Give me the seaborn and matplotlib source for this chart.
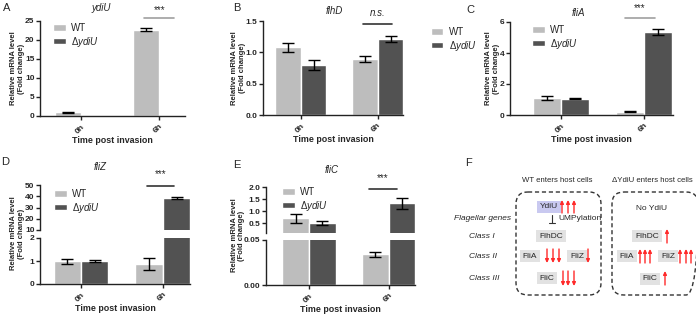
import numpy as np
import pandas as pd
import matplotlib.pyplot as plt
import seaborn as sns
from matplotlib.patches import Patch, FancyBboxPatch

# =====================
# DATA
# =====================
times = ["0h", "6h"]
strains = ["WT", "KO"]
legend_labels = ["WT", "Δ$\\mathit{ydiU}$"]

ydiU_wt = [1.0, 22.7]
ydiU_wt_err = [0.08, 0.45]
ydiU_ko = [0.0, 0.0]
ydiU_ko_err = [0.0, 0.0]

flhD_wt = [1.08, 0.89]
flhD_wt_err = [0.07, 0.045]
flhD_ko = [0.80, 1.21]
flhD_ko_err = [0.075, 0.045]

fliA_wt = [1.08, 0.22]
fliA_wt_err = [0.13, 0.05]
fliA_ko = [1.05, 5.37]
fliA_ko_err = [0.03, 0.2]

fliZ_wt = [0.99, 0.88]
fliZ_wt_err = [0.11, 0.27]
fliZ_ko = [1.0, 38.7]
fliZ_ko_err = [0.06, 0.9]

fliC_wt = [0.70, 0.034]
fliC_wt_err = [0.18, 0.003]
fliC_ko = [0.51, 1.33]
fliC_ko_err = [0.10, 0.22]

c_wt = "#bdbdbd"
c_ko = "#525252"

W, H = 696, 314

sns.set_style("ticks")
plt.rcParams["font.family"] = ["Liberation Sans", "DejaVu Sans"]
plt.rcParams["mathtext.fontset"] = "custom"
plt.rcParams["mathtext.it"] = "Liberation Sans:italic"
plt.rcParams["mathtext.rm"] = "Liberation Sans"

fig = plt.figure(figsize=(6.96, 3.14), dpi=100)


def px_box(x0, y0, x1, y1):
    return [x0 / W, 1 - y1 / H, (x1 - x0) / W, (y1 - y0) / H]


def draw_bars(ax, wt, ko, wt_err, ko_err):
    df = pd.DataFrame({
        "time": times * 2,
        "strain": [strains[0]] * 2 + [strains[1]] * 2,
        "value": list(wt) + list(ko),
    })
    sns.barplot(data=df, x="time", y="value", hue="strain", hue_order=strains,
                palette=[c_wt, c_ko], width=0.67, errorbar=None, legend=False,
                saturation=1, ax=ax)
    for cont, errs in zip(ax.containers, [wt_err, ko_err]):
        for bar, e in zip(cont, errs):
            if e > 0:
                ax.errorbar(bar.get_x() + bar.get_width() / 2, bar.get_height(), yerr=e,
                            fmt="none", ecolor="black", elinewidth=1, capsize=4, capthick=1)


def style(ax, xlim, ylim, yticks, fmt, bottom=True, ylabel=True):
    ax.set_xlim(*xlim)
    ax.set_ylim(*ylim)
    ax.set_yticks(yticks)
    ax.set_yticklabels([fmt % v for v in yticks], fontsize=6, fontweight="bold")
    for s in ax.spines.values():
        s.set_linewidth(1)
        s.set_color("#222222")
    ax.spines["right"].set_visible(False)
    ax.spines["top"].set_visible(False)
    ax.tick_params(axis="y", length=3, width=1, pad=1, color="#222222")
    if bottom:
        ax.set_xticks(range(len(times)))
        ax.set_xticklabels(times, rotation=45, ha="right", rotation_mode="anchor",
                           fontsize=6, fontweight="bold")
        ax.tick_params(axis="x", length=3, width=1, pad=2, color="#222222")
        ax.set_xlabel("Time post invasion", fontsize=6.4, fontweight="bold", labelpad=1)
    else:
        ax.spines["bottom"].set_visible(False)
        ax.tick_params(axis="x", bottom=False, labelbottom=False)
        ax.set_xlabel("")
    if ylabel:
        ax.set_ylabel("Relative mRNA level\n(Fold change)", fontsize=5.5,
                      fontweight="bold", labelpad=0, linespacing=1.1)
    else:
        ax.set_ylabel("")


def add_legend(ax, x, y):
    handles = [Patch(facecolor=c_wt), Patch(facecolor=c_ko)]
    ax.legend(handles, legend_labels, loc="upper left", bbox_to_anchor=(x / W, 1 - y / H),
              bbox_transform=fig.transFigure, frameon=False, fontsize=7, borderpad=0,
              handlelength=1.3, handleheight=0.6, labelspacing=0.2, handletextpad=0.6)


def signif(ax, center, half, y_line, y_text, text, color, italic=False):
    tr = ax.get_xaxis_transform()
    ax.plot([center - half, center + half], [y_line, y_line], color=color, lw=1.2,
            transform=tr, clip_on=False)
    ax.text(center, y_text, text, transform=tr, ha="center", va="center", fontsize=7,
            style="italic" if italic else "normal")


# =====================
# PANEL A - ydiU
# =====================
axA = fig.add_axes(px_box(40, 21, 185, 116))
draw_bars(axA, ydiU_wt, ydiU_ko, ydiU_wt_err, ydiU_ko_err)
style(axA, (-0.53, 1.33), (0, 25), [0, 5, 10, 15, 20, 25], "%d")
add_legend(axA, 48, 18)
signif(axA, 1, 0.19, 1.03, 1.11, "***", "#a0a0a0")

# =====================
# PANEL B - flhD
# =====================
axB = fig.add_axes(px_box(263, 21, 403, 115))
draw_bars(axB, flhD_wt, flhD_ko, flhD_wt_err, flhD_ko_err)
style(axB, (-0.49, 1.33), (0, 1.5), [0, 0.5, 1.0, 1.5], "%.1f")
add_legend(axB, 426, 22)
signif(axB, 1, 0.19, 0.97, 1.09, "n.s.", "#333333", italic=True)

# =====================
# PANEL C - fliA
# =====================
axC = fig.add_axes(px_box(510, 22, 673, 115))
draw_bars(axC, fliA_wt, fliA_ko, fliA_wt_err, fliA_ko_err)
style(axC, (-0.61, 1.35), (0, 6), [0, 2, 4, 6], "%d")
add_legend(axC, 527, 20)
signif(axC, 0.95, 0.18, 1.04, 1.15, "***", "#a0a0a0")

# =====================
# PANEL D - fliZ (broken axis)
# =====================
axDt = fig.add_axes(px_box(40, 185, 190, 230))
axDb = fig.add_axes(px_box(40, 238, 190, 284))
for ax in (axDt, axDb):
    draw_bars(ax, fliZ_wt, fliZ_ko, fliZ_wt_err, fliZ_ko_err)
style(axDt, (-0.5, 1.33), (10, 50), [10, 20, 30, 40, 50], "%d", bottom=False, ylabel=False)
style(axDb, (-0.5, 1.33), (0, 2), [0, 1, 2], "%d", ylabel=False)
axDb.set_ylabel("Relative mRNA level\n(Fold change)", fontsize=5.5, fontweight="bold",
                linespacing=1.1)
axDb.yaxis.set_label_coords(-0.1, 1.1)
add_legend(axDt, 49, 184)
signif(axDt, 0.97, 0.17, 0.98, 1.24, "***", "#333333")

# =====================
# PANEL E - fliC (broken axis)
# =====================
axEt = fig.add_axes(px_box(266, 187, 415, 233))
axEb = fig.add_axes(px_box(266, 240, 415, 285))
for ax in (axEt, axEb):
    draw_bars(ax, fliC_wt, fliC_ko, fliC_wt_err, fliC_ko_err)
style(axEt, (-0.54, 1.33), (0.1, 2.0), [0.5, 1.0, 1.5, 2.0], "%.1f", bottom=False, ylabel=False)
style(axEb, (-0.54, 1.33), (0, 0.05), [0.0, 0.05], "%.2f", ylabel=False)
axEb.set_ylabel("Relative mRNA level\n(Fold change)", fontsize=5.5, fontweight="bold",
                linespacing=1.1)
axEb.yaxis.set_label_coords(-0.14, 1.1)
add_legend(axEt, 277, 182)
signif(axEt, 0.93, 0.18, 0.96, 1.2, "***", "#333333")

# =====================
# TITLES AND PANEL LETTERS
# =====================
for txt, x, y in [("ydiU", 101, 8), ("flhD", 334, 11), ("fliA", 578, 13),
                  ("fliZ", 100, 167), ("fliC", 332, 170)]:
    fig.text(x / W, 1 - y / H, txt, ha="center", va="center", fontsize=7, style="italic")
for txt, x, y in [("A", 7, 8), ("B", 237, 8), ("C", 470, 10),
                  ("D", 5, 162), ("E", 237, 165), ("F", 469, 163)]:
    fig.text(x / W, 1 - y / H, txt, ha="center", va="center", fontsize=8)

# =====================
# PANEL F - schematic
# =====================
axF = fig.add_axes(px_box(464, 157, 696, 314))
axF.set_xlim(464, 696)
axF.set_ylim(314, 157)
axF.axis("off")

fs = 6
axF.text(557, 181, "WT enters host cells", ha="center", va="center", fontsize=5.6)
axF.text(652, 181, "ΔYdiU enters host cells", ha="center", va="center", fontsize=5.6)
for x0, x1 in [(516, 601), (612, 698)]:
    axF.add_patch(FancyBboxPatch((x0, 192), x1 - x0, 103,
                                 boxstyle="round,pad=0,rounding_size=12",
                                 fill=False, ls=(0, (3, 2)), lw=1, ec="#333333",
                                 clip_on=False))

axF.text(511, 218, "Flagellar genes", ha="right", va="center", fontsize=fs, style="italic")
for txt, y in [("Class I", 236), ("Class II", 256), ("Class III", 278)]:
    axF.text(469, y, txt, ha="left", va="center", fontsize=fs, style="italic")


def gene_box(x, y, txt, fc="#e2e2e2"):
    axF.text(x, y, txt, ha="center", va="center", fontsize=fs,
             bbox=dict(boxstyle="square,pad=0.35", fc=fc, ec="none"))


def red_arrows(xs, y0, y1, up=True):
    for x in xs:
        tip, tail = (y0, y1) if up else (y1, y0)
        axF.annotate("", xy=(x, tip), xytext=(x, tail),
                     arrowprops=dict(arrowstyle="-|>", color="#ff2a2a", lw=1,
                                     mutation_scale=5, shrinkA=0, shrinkB=0))


gene_box(549, 207, "YdiU", fc="#c9c9f0")
red_arrows([562, 568, 574], 200, 213, up=True)
axF.plot([552, 552], [215, 223], color="#333333", lw=0.8)
axF.plot([549, 555], [223, 223], color="#333333", lw=0.8)
axF.text(558, 219, "UMPylation", ha="left", va="center", fontsize=fs)
gene_box(551, 236, "FlhDC")
gene_box(530, 256, "FliA")
red_arrows([547, 553, 559], 249, 263, up=False)
gene_box(577, 256, "FliZ")
red_arrows([588], 249, 263, up=False)
gene_box(547, 278, "FliC")
red_arrows([563, 568, 574], 271, 286, up=False)

axF.text(652, 209, "No YdiU", ha="center", va="center", fontsize=fs)
gene_box(647, 236, "FlhDC")
red_arrows([667], 229, 243, up=True)
gene_box(627, 256, "FliA")
red_arrows([640, 645, 650], 249, 263, up=True)
gene_box(668, 256, "FliZ")
red_arrows([680, 686, 691], 249, 263, up=True)
gene_box(650, 279, "FliC")
red_arrows([665], 271, 285, up=True)

fig.savefig("out.png", dpi=100)
